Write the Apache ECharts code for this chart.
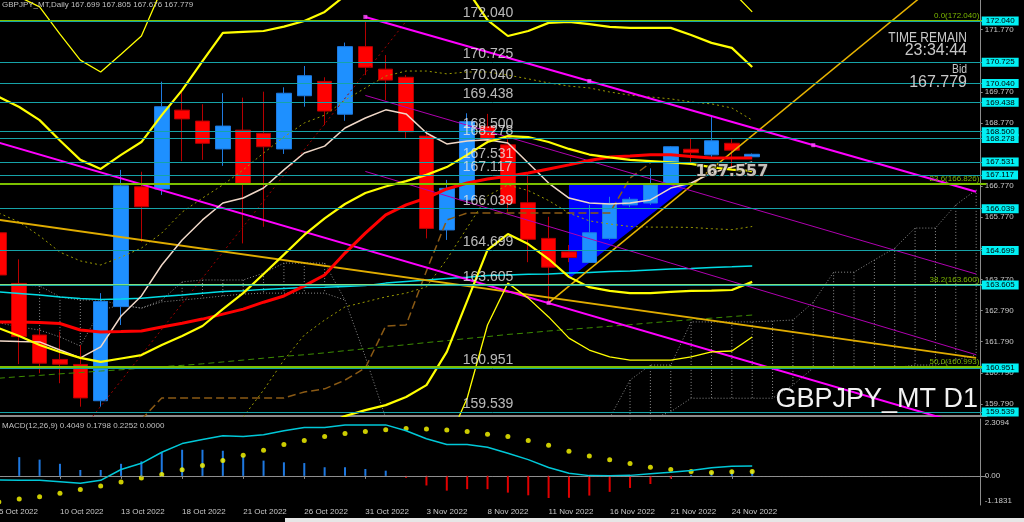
<!DOCTYPE html>
<html><head><meta charset="utf-8">
<script src="https://cdn.jsdelivr.net/npm/echarts@6/dist/echarts.min.js"></script>
<style>html,body{margin:0;padding:0;background:#000;overflow:hidden}#c{width:1024px;height:522px}</style>
</head><body><div id="c"></div>
<script>
const categories = ['5 Oct 2022','6 Oct 2022','7 Oct 2022','10 Oct 2022','11 Oct 2022','12 Oct 2022','13 Oct 2022','14 Oct 2022','17 Oct 2022','18 Oct 2022','19 Oct 2022','20 Oct 2022','21 Oct 2022','24 Oct 2022','25 Oct 2022','26 Oct 2022','27 Oct 2022','28 Oct 2022','31 Oct 2022','1 Nov 2022','2 Nov 2022','3 Nov 2022','4 Nov 2022','7 Nov 2022','8 Nov 2022','9 Nov 2022','10 Nov 2022','11 Nov 2022','14 Nov 2022','15 Nov 2022','16 Nov 2022','17 Nov 2022','18 Nov 2022','21 Nov 2022','22 Nov 2022','23 Nov 2022','24 Nov 2022','25 Nov 2022','28 Nov 2022','29 Nov 2022','30 Nov 2022','1 Dec 2022','2 Dec 2022','5 Dec 2022','6 Dec 2022','7 Dec 2022','8 Dec 2022','9 Dec 2022','12 Dec 2022'];
// [open, close, low, high]
const ohlc = [
[165.27,163.92,163.80,165.40],[163.65,161.95,161.07,164.42],[162.00,161.10,160.78,162.19],[161.22,161.07,160.46,162.11],
[161.06,159.99,159.71,161.68],[159.90,163.07,159.71,163.34],[162.91,166.77,162.32,167.28],[166.74,166.10,164.98,167.22],
[166.67,169.30,166.48,170.10],[169.19,168.91,167.56,169.81],[168.84,168.13,167.60,169.38],[167.95,168.68,167.41,169.73],
[168.55,166.85,164.93,169.59],[168.45,168.02,165.46,169.78],[167.95,169.73,167.79,169.92],[169.65,170.29,169.30,170.60],
[170.11,169.16,168.71,170.24],[169.06,171.22,168.85,171.35],[171.22,170.56,170.31,172.04],[170.50,170.15,169.51,170.95],
[170.24,168.50,168.29,170.31],[168.36,165.41,165.09,168.55],[165.36,166.69,165.04,166.96],[166.32,168.82,166.22,169.09],
[168.66,168.24,168.13,169.07],[168.08,166.21,165.94,168.26],[166.23,165.06,164.33,167.17],[165.09,164.17,163.03,165.78],
[164.66,164.48,164.33,164.88],[164.32,165.27,164.32,166.16],[165.09,166.21,165.04,166.42],[166.16,166.34,166.09,166.41],
[166.22,166.80,166.16,167.33],[166.85,168.02,166.83,168.04],[167.94,167.83,167.53,168.29],[167.76,168.21,167.66,168.98],
[168.13,167.91,167.33,168.26],[167.699,167.779,167.676,167.805]];

const bbUpper = [169.61,169.29,168.87,168.22,167.60,167.31,167.76,168.17,169.03,169.83,170.76,171.66,171.69,171.72,171.86,172.04,172.33,172.85,173.30,173.55,173.60,173.50,173.30,173.03,172.07,171.56,171.72,171.98,172.01,171.94,171.85,171.82,171.82,171.82,171.59,171.34,171.18,170.57];
const bbMiddle = [162.22,161.97,161.68,161.46,161.27,161.14,161.25,161.36,161.68,161.97,162.29,162.83,163.34,163.95,164.57,165.20,165.73,166.19,166.54,166.75,166.92,167.12,167.37,167.76,168.17,168.36,168.33,168.17,167.95,167.77,167.68,167.60,167.56,167.52,167.47,167.37,167.29,167.24];
const bbLower = [null,null,null,null,null,null,null,null,null,null,null,null,null,null,null,158.40,159.13,159.41,159.60,159.76,160.02,160.40,161.46,163.09,164.72,165.23,164.91,164.43,163.86,163.53,163.41,163.34,163.34,163.38,163.41,163.42,163.44,163.70];
const outerUpper = [173.16,172.81,172.49,171.62,170.79,170.41,170.98,171.56,173.06,null,null,null,null,null,null,null,null,null,null,null,null,null,null,null,null,null,null,null,null,null,null,null,null,null,null,null,173.00,172.33];
const outerLower = [null,null,null,null,null,null,null,null,null,null,null,null,null,null,null,null,null,null,null,null,null,null,158.50,159.98,162.32,163.66,163.18,162.58,161.90,161.52,161.30,161.20,161.20,161.20,161.30,161.46,161.49,161.94];
const maRed = [162.42,162.42,162.40,162.37,162.16,162.10,162.11,162.13,162.26,162.38,162.51,162.67,162.83,163.05,163.25,163.57,163.92,164.62,165.26,165.84,166.16,166.38,166.67,166.86,166.99,167.08,167.18,167.31,167.44,167.58,167.69,167.72,167.76,167.76,167.71,167.66,167.66,167.66];
const maFast = [161.81,161.79,161.78,161.52,161.27,161.62,162.61,163.25,164.24,165.04,165.68,166.22,166.38,166.70,167.28,167.82,168.04,168.62,168.94,169.20,169.07,168.46,168.11,168.20,168.24,168.14,167.50,166.86,166.38,166.22,166.19,166.22,166.32,166.70,166.86,167.18,167.37,167.53];
const maCyan = [163.38,163.33,163.28,163.22,163.17,163.14,163.15,163.18,163.23,163.28,163.34,163.39,163.42,163.46,163.49,163.52,163.53,163.55,163.58,163.66,163.71,163.76,163.81,163.85,163.90,163.92,163.94,163.95,163.98,164.00,164.03,164.05,164.08,164.11,164.13,164.16,164.18,164.21];
const maGreen = [160.62,160.67,160.71,160.76,160.80,160.85,160.89,160.94,160.99,161.03,161.08,161.14,161.20,161.26,161.32,161.37,161.43,161.50,161.56,161.63,161.69,161.76,161.82,161.89,161.95,162.02,162.07,162.13,162.18,162.23,162.28,162.33,162.39,162.44,162.49,162.54,162.59,162.64];
const kijun = [null,null,null,null,null,null,null,159.30,159.99,159.99,159.99,159.99,159.99,159.99,159.99,160.18,160.28,160.56,160.95,162.29,162.32,164.05,165.68,165.90,165.90,165.90,165.90,165.90,165.90,165.90,165.90,167.02,167.50];
const sigmaUpper = [165.90,165.61,165.17,164.65,164.37,164.24,164.49,164.78,165.26,165.93,166.38,166.80,167.28,167.82,168.33,168.78,169.03,169.51,169.90,170.28,170.44,170.44,170.35,170.41,170.41,170.31,170.19,170.06,169.96,169.90,169.77,169.67,169.61,169.55,169.45,169.39,169.26,168.87];
const sigmaLower = [null,null,null,null,null,null,null,null,null,null,null,null,159.38,160.24,161.20,162.00,162.48,162.90,163.06,163.22,163.34,163.54,164.42,165.43,166.45,166.80,166.62,166.30,165.90,165.65,165.55,165.47,165.45,165.45,165.44,165.40,165.37,165.47];
const cloudUp = [163.60,163.60,163.57,163.22,163.12,163.12,162.96,162.86,163.12,163.70,163.76,163.76,163.76,163.98,164.30,164.30,164.30,163.12,161.30,159.35,null,null,null,null,null,null,null,null,null,null,159.35,160.56,161.04,161.04,162.42,162.42,162.42,162.42,162.45,162.48,163.05,164.01,164.01,164.40,164.78,165.42,165.42,166.16,166.64];
const cloudLow = [162.39,162.26,162.16,161.94,161.65,162.80,162.96,162.86,163.06,163.12,163.18,163.25,163.31,163.34,163.34,163.34,163.34,163.12,null,null,null,null,null,null,null,null,null,null,null,null,null,159.30,159.30,159.55,159.98,159.98,159.98,159.98,159.98,160.40,160.95,160.95,160.95,160.95,160.95,161.04,161.04,161.20,161.36];

const trendMagentaTop = [['31 Oct 2022',172.17],['12 Dec 2022',166.58]];
const trendMagentaLow = [['5 Oct 2022',168.15],['12 Dec 2022',159.03]];
const trendPurpleA = [['31 Oct 2022',169.66],['12 Dec 2022',163.95]];
const trendPurpleB = [['31 Oct 2022',167.23],['12 Dec 2022',161.37]];
const trendGoldDown = [['5 Oct 2022',165.68],['12 Dec 2022',161.27]];
const trendGoldUp = [['11 Nov 2022',163.03],['8 Dec 2022',173.19]];
const trendRedDot = [['11 Oct 2022',158.90],['2 Nov 2022',172.03]];
const anchors = [['31 Oct 2022',172.17],['15 Nov 2022',170.12],['30 Nov 2022',168.07],['11 Nov 2022',163.03]];
const triangle = [['14 Nov 2022',166.86],['22 Nov 2022',166.86],['14 Nov 2022',163.80]];

const levels = [172.040,170.725,170.040,169.438,168.500,168.278,167.531,167.117,166.039,164.699,163.605,160.951,159.539];
const bidPrice = 167.779;
const fibLevels = [172.040,166.826,163.600,160.993];
const fibNames = ['0.0','23.6','38.2','50.0'];
const priceTicks = [159.790,160.790,161.790,162.790,163.770,164.770,165.770,166.770,168.770,169.770,171.770];
const labelAnchorDate = '4 Nov 2022';
const noteText = ['24 Nov 2022',167.21,'167.557'];

const macdLine = [-0.17,-0.18,-0.18,-0.24,-0.30,-0.18,0.26,0.51,0.96,1.31,1.48,1.63,1.60,1.67,1.83,1.96,1.96,2.07,2.07,2.07,1.83,1.51,1.27,1.27,1.16,0.92,0.66,0.34,0.11,0.01,0.00,0.02,0.09,0.15,0.22,0.33,0.39,0.4049];
const macdSignal = [-1.06,-0.94,-0.85,-0.71,-0.55,-0.41,-0.25,-0.09,0.06,0.25,0.42,0.62,0.84,1.04,1.27,1.44,1.60,1.72,1.80,1.87,1.92,1.90,1.86,1.80,1.69,1.60,1.44,1.24,1.00,0.81,0.65,0.50,0.35,0.26,0.18,0.14,0.17,0.1798];
const macdHist = [0.85,0.76,0.66,0.49,0.24,0.24,0.49,0.59,0.96,1.06,1.06,1.02,0.80,0.62,0.55,0.52,0.35,0.35,0.28,0.21,-0.08,-0.39,-0.60,-0.54,-0.54,-0.68,-0.79,-0.90,-0.89,-0.80,-0.65,-0.49,-0.33,-0.11,0.04,0.18,0.22,0.2252];
const macdTicks = [-1.1831,0,2.3094];

const F = 'Liberation Sans';
const chart = echarts.init(document.getElementById('c'), null, {renderer:'canvas'});

function lineS(data, color, width, type, z){
  return {type:'line', xAxisIndex:0, yAxisIndex:0, data:data, symbol:'none', connectNulls:false, silent:true,
    lineStyle:{color:color, width:width, type:type||'solid'}, z:z||3};
}
const labelEvery = (i) => i % 3 === 0 && i <= 37;

const hatch = [];
cloudUp.forEach((u,i)=>{ if(u!=null && cloudLow[i]!=null) hatch.push([i,u,cloudLow[i]]); });

const markData = [];
fibLevels.forEach((v,k)=>{
  markData.push({yAxis:v, lineStyle:{color: k===2?'#7FE07F':'#7CC000', width:2, type:'solid'},
    label:{show:true, position:'insideEndTop', distance:[7,1], formatter: fibNames[k]+'('+v.toFixed(3)+')', color:'#7CB800', fontSize:8, fontFamily:F}});
});
levels.forEach(v=>{
  markData.push({yAxis:v, lineStyle:{color:'#16A3A8', width:1, type:'solid'},
    label:{show:true, position:'end', distance:-4.6, formatter: v.toFixed(3), color:'#000', backgroundColor:'#00F0F4', padding:[1,4,0,4], fontSize:8, lineHeight:8, fontFamily:F}});
});
markData.push({yAxis:bidPrice, lineStyle:{opacity:0},
  label:{show:true, position:'end', distance:-4.6, formatter: bidPrice.toFixed(3), color:'#000', backgroundColor:'#FFFFFF', padding:[1,4,0,4], fontSize:8, lineHeight:8, fontFamily:F}});

const option = {
  backgroundColor:'#000',
  animation:false,
  title:[
    {text:'GBPJPY_MT,Daily 167.699 167.805 167.676 167.779', left:2, top:1, padding:0, textStyle:{color:'#C0C0C0', fontSize:8, fontWeight:'normal', fontFamily:F}},
    {text:'MACD(12,26,9) 0.4049 0.1798 0.2252 0.0000', left:2, top:422, padding:0, textStyle:{color:'#C0C0C0', fontSize:8, fontWeight:'normal', fontFamily:F}},
    {text:'23:34:44', right:57, top:42.5, padding:0, textStyle:{color:'#C8C8C8', fontSize:16, fontWeight:'normal', fontFamily:F}},
    {text:'167.779', right:57, top:75, padding:0, textStyle:{color:'#C8C8C8', fontSize:16, fontWeight:'normal', fontFamily:F}},
    {text:'GBPJPY_MT D1', right:46, top:386, padding:0, textStyle:{color:'#F2F2F2', fontSize:27, fontWeight:'normal', fontFamily:F}}
  ],
  graphic:[
    {type:'rect', left:285, top:518, shape:{width:739, height:4}, style:{fill:'#E6E6E6'}, silent:true},
    {type:'text', x:967, y:30, scaleX:0.8, silent:true, z:100, style:{text:'TIME REMAIN', fill:'#C8C8C8', font:'15px "Liberation Sans"', align:'right', verticalAlign:'top'}},
    {type:'text', x:967, y:63, scaleX:0.8, silent:true, z:100, style:{text:'Bid', fill:'#C8C8C8', font:'13px "Liberation Sans"', align:'right', verticalAlign:'top'}}
  ],
  grid:[
    {left:-11.3, top:0, width:997.64, height:416, outerBoundsMode:'none', containLabel:false},
    {left:-11.3, top:419, width:997.64, height:86, outerBoundsMode:'none', containLabel:false}
  ],
  xAxis:[
    {type:'category', gridIndex:0, data:categories, boundaryGap:true, axisLine:{show:true, lineStyle:{color:'#8C8C8C', width:2}}, axisTick:{show:false}, axisLabel:{show:false}, splitLine:{show:false}},
    {type:'category', gridIndex:1, data:categories, boundaryGap:true, axisLine:{show:true, lineStyle:{color:'#8C8C8C'}},
      axisTick:{show:true, alignWithLabel:true, interval:labelEvery, length:3, lineStyle:{color:'#8C8C8C'}},
      axisLabel:{interval:labelEvery, align:'left', color:'#C8C8C8', fontSize:8, fontFamily:F, margin:3, hideOverlap:false}, splitLine:{show:false}}
  ],
  yAxis:[
    {type:'value', gridIndex:0, position:'right', offset:-5.64, min:159.412, max:172.711,
      axisLine:{show:true, lineStyle:{color:'#8C8C8C'}}, axisTick:{show:true, length:2, customValues:priceTicks, lineStyle:{color:'#8C8C8C'}},
      axisLabel:{customValues:priceTicks, formatter:(v)=>Number(v).toFixed(3), color:'#C8C8C8', fontSize:8, fontFamily:F, margin:4}, splitLine:{show:false}},
    {type:'value', gridIndex:1, position:'right', offset:-5.64, min:-1.1831, max:2.3094,
      axisLine:{show:true, lineStyle:{color:'#8C8C8C'}}, axisTick:{show:false},
      axisLabel:{customValues:macdTicks, showMinLabel:true, showMaxLabel:true, formatter:(v)=> Number(v)===0 ? '0.00' : Number(v).toFixed(4), color:'#C8C8C8', fontSize:8, fontFamily:F, margin:4, verticalAlignMinLabel:'bottom', verticalAlignMaxLabel:'top'}, splitLine:{show:false}}
  ],
  series:[
    {type:'custom', xAxisIndex:0, yAxisIndex:0, z:1, silent:true, data:[[0,0]],
      renderItem:(params, api)=>{
        const pts = triangle.map(p=>api.coord([categories.indexOf(p[0]), p[1]]));
        return {type:'polygon', shape:{points:pts}, style:{fill:'#0000FF'}};
      }},
    {type:'custom', xAxisIndex:0, yAxisIndex:0, z:1, silent:true, data:hatch, encode:{x:0, y:[1,2]},
      renderItem:(params, api)=>{
        const a = api.coord([api.value(0), api.value(1)]);
        const b = api.coord([api.value(0), api.value(2)]);
        return {type:'line', shape:{x1:a[0], y1:a[1], x2:b[0], y2:b[1]}, style:{stroke:'#8A8A8A', lineWidth:1, lineDash:[1,2]}};
      }},
    lineS(cloudUp, '#8A8A8A', 1, [1,2], 1),
    lineS(cloudLow, '#8A8A8A', 1, [1,2], 1),
    {type:'candlestick', xAxisIndex:0, yAxisIndex:0, data:ohlc, barWidth:15, z:2, silent:true,
      itemStyle:{color:'#1E90FF', color0:'#FF0000', borderColor:'#1E7AE0', borderColor0:'#B80000', borderWidth:1}},
    lineS(maGreen, '#3C8C00', 1, [6,4]),
    lineS(kijun, '#8B5A14', 1.5, [8,4]),
    lineS(sigmaUpper, '#9A9A00', 1, [2,3]),
    lineS(sigmaLower, '#9A9A00', 1, [2,3]),
    lineS(trendRedDot, '#A00000', 1, [2,3]),
    lineS(maCyan, '#00DDE6', 1.5),
    lineS(trendGoldDown, '#E0AC00', 2),
    lineS(trendGoldUp, '#E8B400', 1.5),
    lineS(trendPurpleA, '#B000B0', 1),
    lineS(trendPurpleB, '#B000B0', 1),
    lineS(trendMagentaTop, '#FF00FF', 2),
    lineS(trendMagentaLow, '#FF00FF', 2),
    lineS(maFast, '#F0D8C8', 1.5),
    lineS(maRed, '#FF0000', 3),
    lineS(bbUpper, '#FFFF00', 2.2),
    lineS(bbMiddle, '#FFFF00', 2.2),
    lineS(bbLower, '#FFFF00', 2.2),
    lineS(outerUpper, '#FFFF00', 1.3),
    lineS(outerLower, '#FFFF00', 1.3),
    {type:'scatter', xAxisIndex:0, yAxisIndex:0, data:anchors, symbol:'rect', symbolSize:4, itemStyle:{color:'#FF50FF'}, z:5, silent:true},
    {type:'line', xAxisIndex:0, yAxisIndex:0, data:[], z:4, silent:true,
      markLine:{symbol:'none', silent:true, animation:false, data:markData}},
    {type:'scatter', xAxisIndex:0, yAxisIndex:0, z:6, silent:true, symbolSize:2, itemStyle:{color:'rgba(0,0,0,0)'},
      data: levels.map(v=>[labelAnchorDate, v]),
      label:{show:true, position:[17,-14], formatter:(p)=>p.value[1].toFixed(3), color:'#E6E6E6', fontSize:14, fontFamily:F}},
    {type:'scatter', xAxisIndex:0, yAxisIndex:0, z:7, silent:true, symbolSize:1, itemStyle:{color:'rgba(0,0,0,0)'},
      data:[[noteText[0], noteText[1]]],
      label:{show:true, position:'inside', formatter:noteText[2], color:'#F5EEE6', fontSize:16, fontWeight:'bold', fontFamily:'DejaVu Sans', textBorderColor:'#111', textBorderWidth:2}},
    {type:'bar', xAxisIndex:1, yAxisIndex:1, data:macdHist, barWidth:2, silent:true,
      itemStyle:{color:(p)=> p.value>=0 ? '#1E78E0' : '#E00000'},
      markLine:{symbol:'none', silent:true, data:[{yAxis:0}], label:{show:false}, lineStyle:{color:'#909090', type:[2,2], width:1}}},
    {type:'line', xAxisIndex:1, yAxisIndex:1, data:macdLine, symbol:'none', silent:true, lineStyle:{color:'#00C8D8', width:1.5}},
    {type:'scatter', xAxisIndex:1, yAxisIndex:1, data:macdSignal, symbolSize:5, silent:true, itemStyle:{color:'#FFFF00'}}
  ]
};
chart.setOption(option);
</script></body></html>
